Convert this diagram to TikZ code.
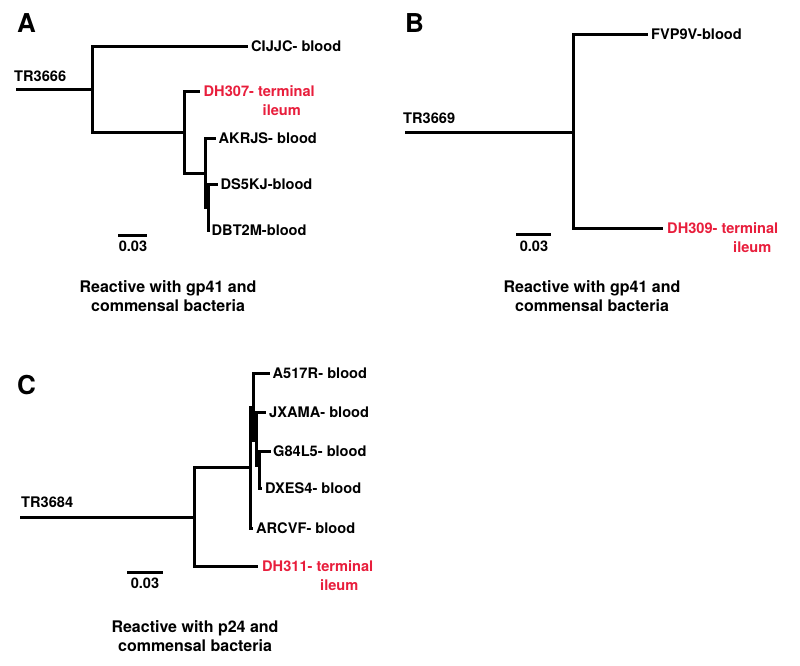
\documentclass[tikz,border=0pt]{standalone}
\usepackage{fontspec}
\setmainfont{TeX Gyre Heros}
\definecolor{ileumred}{RGB}{232,30,60}
\begin{document}
\begin{tikzpicture}[x=1pt,y=-1pt,
  br/.style={line width=3pt},
  lbl/.style={inner sep=0pt, anchor=base west, font=\fontsize{14.6}{18.5}\selectfont\bfseries},
  redlbl/.style={inner sep=0pt, anchor=north west, align=left, text=ileumred, font=\fontsize{14.6}{18.5}\selectfont\bfseries},
  sclbl/.style={inner sep=0pt, anchor=base, font=\fontsize{14.6}{18.5}\selectfont\bfseries},
  captext/.style={inner sep=0pt, anchor=north, align=center, font=\fontsize{16}{19}\selectfont\bfseries},
  panel/.style={inner sep=0pt, anchor=base west, font=\fontsize{26}{26}\selectfont\bfseries}]
\useasboundingbox (0,0) rectangle (800,665);

% ---------------- Panel A ----------------
\node[panel] (pA) at (17,32.7) {A};
\node[lbl] (TR3666) at (14,81.3) {TR3666};
\coordinate (rA) at (16,89);
\coordinate (nA1) at (92,89);
\coordinate (tCIJJC) at (248,46);
\coordinate (nA2) at (184,132);
\coordinate (tDH307) at (200,91);
\coordinate (nA3) at (205,173);
\coordinate (tAKRJS) at (216,138);
\coordinate (nA4) at (208,207);
\coordinate (tDS5KJ) at (218,184);
\coordinate (tDBT2M) at (210,230);
\draw[br] (rA) -- (nA1);
\draw[br] (nA1) |- (tCIJJC);
\draw[br] (nA1) |- (nA2);
\draw[br] (nA2) |- (tDH307);
\draw[br] (nA2) |- (nA3);
\draw[br] (nA3) |- (tAKRJS);
\draw[br] (nA3) |- (nA4);
\draw[br] (nA4) |- (tDS5KJ);
\draw[br] (nA4) |- (tDBT2M);
\node[lbl] (CIJJC) at (251,51.2) {CIJJC- blood};
\node[redlbl] (DH307) at (203.5,85.5) {DH307- terminal\\\hspace*{59pt}ileum};
\node[lbl] (AKRJS) at (218.5,143.2) {AKRJS- blood};
\node[lbl] (DS5KJ) at (220.5,189.2) {DS5KJ-blood};
\node[lbl] (DBT2M) at (211.5,235.2) {DBT2M-blood};
\coordinate (sA1) at (118,235.5);
\coordinate (sA2) at (147,235.5);
\draw[br] (sA1) -- (sA2);
\node[sclbl] (scA) at (133,251) {0.03};
\node[captext] (capA) at (168,280.5) {Reactive with gp41 and\\commensal bacteria};

% ---------------- Panel B ----------------
\node[panel] (pB) at (405,32.7) {B};
\node[lbl] (TR3669) at (403,123.3) {TR3669};
\coordinate (rB) at (405,132);
\coordinate (nB1) at (573,132);
\coordinate (tFVP9V) at (648,34);
\coordinate (tDH309) at (663,228);
\draw[br] (rB) -- (nB1);
\draw[br] (nB1) |- (tFVP9V);
\draw[br] (nB1) |- (tDH309);
\node[lbl] (FVP9V) at (651,39.2) {FVP9V-blood};
\node[redlbl] (DH309) at (667,222.5) {DH309- terminal\\\hspace*{66pt}ileum};
\coordinate (sB1) at (516,234);
\coordinate (sB2) at (551,234);
\draw[br] (sB1) -- (sB2);
\node[sclbl] (scB) at (534,251) {0.03};
\node[captext] (capB) at (592,280.5) {Reactive with gp41 and\\commensal bacteria};

% ---------------- Panel C ----------------
\node[panel] (pC) at (17,394) {C};
\node[lbl] (TR3684) at (21,507.3) {TR3684};
\coordinate (rC) at (20,517);
\coordinate (nC1) at (194,517);
\coordinate (nC2) at (250,467);
\coordinate (tDH311) at (258,566);
\coordinate (nC3) at (253,407);
\coordinate (tARCVF) at (253,528);
\coordinate (tA517R) at (270,373);
\coordinate (nC4) at (256,440);
\coordinate (tJXAMA) at (266,412);
\coordinate (nC5) at (259,465);
\coordinate (tG84L5) at (271,451);
\coordinate (tDXES4) at (262,488);
\draw[br] (rC) -- (nC1);
\draw[br] (nC1) |- (nC2);
\draw[br] (nC1) |- (tDH311);
\draw[br] (nC2) |- (nC3);
\draw[br] (nC2) |- (tARCVF);
\draw[br] (nC3) |- (tA517R);
\draw[br] (nC3) |- (nC4);
\draw[br] (nC4) |- (tJXAMA);
\draw[br] (nC4) |- (nC5);
\draw[br] (nC5) |- (tG84L5);
\draw[br] (nC5) |- (tDXES4);
\node[lbl] (A517R) at (272.5,378.2) {A517R- blood};
\node[lbl] (JXAMA) at (269,417.2) {JXAMA- blood};
\node[lbl] (G84L5) at (273,456.2) {G84L5- blood};
\node[lbl] (DXES4) at (265,493.2) {DXES4- blood};
\node[lbl] (ARCVF) at (256,533.2) {ARCVF- blood};
\node[redlbl] (DH311) at (262,560.5) {DH311- terminal\\\hspace*{58pt}ileum};
\coordinate (sC1) at (127,572);
\coordinate (sC2) at (163,572);
\draw[br] (sC1) -- (sC2);
\node[sclbl] (scC) at (145,588.5) {0.03};
\node[captext] (capC) at (195,620.5) {Reactive with p24 and\\commensal bacteria};
\end{tikzpicture}
\end{document}
